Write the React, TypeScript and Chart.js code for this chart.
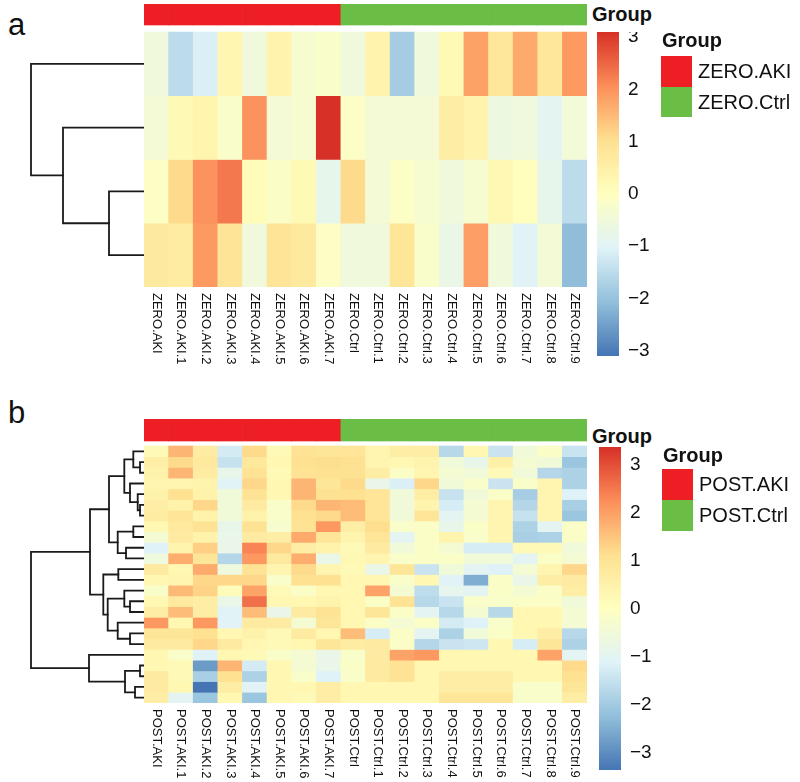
import React, { useEffect, useRef } from 'react';
import { Chart, registerables } from 'chart.js';

Chart.register(...registerables);

const FONT = '"Liberation Sans", Arial, Helvetica, sans-serif';

// ---------- Panel a (ZERO) ----------
const zeroSamples = [
  'ZERO.AKI', 'ZERO.AKI.1', 'ZERO.AKI.2', 'ZERO.AKI.3', 'ZERO.AKI.4', 'ZERO.AKI.5', 'ZERO.AKI.6', 'ZERO.AKI.7',
  'ZERO.Ctrl', 'ZERO.Ctrl.1', 'ZERO.Ctrl.2', 'ZERO.Ctrl.3', 'ZERO.Ctrl.4', 'ZERO.Ctrl.5', 'ZERO.Ctrl.6',
  'ZERO.Ctrl.7', 'ZERO.Ctrl.8', 'ZERO.Ctrl.9',
];
const zeroLevels = ['ZERO.AKI', 'ZERO.Ctrl'];
const zeroGroups = [
  'ZERO.AKI', 'ZERO.AKI', 'ZERO.AKI', 'ZERO.AKI', 'ZERO.AKI', 'ZERO.AKI', 'ZERO.AKI', 'ZERO.AKI',
  'ZERO.Ctrl', 'ZERO.Ctrl', 'ZERO.Ctrl', 'ZERO.Ctrl', 'ZERO.Ctrl', 'ZERO.Ctrl', 'ZERO.Ctrl',
  'ZERO.Ctrl', 'ZERO.Ctrl', 'ZERO.Ctrl',
];
const zeroValues = [
  [-0.5, -1.5, -1.1, 0.3, -0.5, 0.4, -0.3, -0.2, -0.5, 0.4, -1.8, -0.5, 0.2, 1.8, 0.8, 1.7, 0.8, 1.9],
  [-0.4, 0.2, 0.35, -0.2, 2.0, -0.4, -0.3, 3.1, -0.1, -0.4, -0.4, -0.4, 0.6, 0.4, -0.6, -0.5, -0.9, -0.45],
  [-0.1, 1.1, 2.0, 2.3, 0.1, -0.15, 0.2, -0.8, 1.1, -0.4, -0.1, -0.3, -0.5, -0.3, 0.25, 0.05, -0.8, -1.5],
  [0.7, 0.65, 1.9, 0.9, -0.5, 0.9, 0.7, -0.1, -0.5, -0.5, 0.85, -0.2, -0.7, 1.85, -0.5, -1.0, -0.4, -2.1],
];
// hclust-style merges: negative = leaf row (1-based), positive = earlier merge (1-based), then height
const zeroMerges = [
  [-3, -4, 36],
  [-2, 1, 82],
  [-1, 2, 114],
];
const zeroRange = 3.1;
const zeroTicks = [-3, -2, -1, 0, 1, 2, 3];

// ---------- Panel b (POST) ----------
const postSamples = [
  'POST.AKI', 'POST.AKI.1', 'POST.AKI.2', 'POST.AKI.3', 'POST.AKI.4', 'POST.AKI.5', 'POST.AKI.6', 'POST.AKI.7',
  'POST.Ctrl', 'POST.Ctrl.1', 'POST.Ctrl.2', 'POST.Ctrl.3', 'POST.Ctrl.4', 'POST.Ctrl.5', 'POST.Ctrl.6',
  'POST.Ctrl.7', 'POST.Ctrl.8', 'POST.Ctrl.9',
];
const postLevels = ['POST.AKI', 'POST.Ctrl'];
const postGroups = [
  'POST.AKI', 'POST.AKI', 'POST.AKI', 'POST.AKI', 'POST.AKI', 'POST.AKI', 'POST.AKI', 'POST.AKI',
  'POST.Ctrl', 'POST.Ctrl', 'POST.Ctrl', 'POST.Ctrl', 'POST.Ctrl', 'POST.Ctrl', 'POST.Ctrl',
  'POST.Ctrl', 'POST.Ctrl', 'POST.Ctrl',
];
const postValues = [
  [0.2, 1.7, 0.7, -1.3, 1.2, 0.2, 1.0, 0.9, 0.95, 0.35, 0.65, 0.65, -1.7, 0.3, -1.45, -0.5, -0.15, -1.45],
  [0.6, 1.2, 0.8, -1.5, 0.85, 0.3, 1.1, 1.15, 1.1, 0.35, 0.3, 0.4, -0.5, -0.85, 0.55, -0.4, -0.5, -2.1],
  [0.45, 1.7, 0.7, -0.85, 1.0, 0.2, 1.0, 1.1, 1.05, 0.65, -0.15, 0.35, -0.4, -0.5, 0.2, -0.5, -1.75, -1.85],
  [0.35, 0.35, 0.4, -1.1, 1.25, 0.3, 1.7, 0.9, 1.2, -0.8, -1.2, 1.25, -0.5, -0.2, -1.45, -0.2, 0.35, -1.85],
  [0.45, 1.1, 0.45, -0.5, 1.0, 0.3, 1.7, 1.05, 1.1, 0.95, -0.5, 0.65, -1.5, -0.5, -0.15, -1.95, 0.35, -1.15],
  [0.65, 0.45, 1.25, -0.5, 0.75, -0.2, 1.2, 1.7, 1.6, 0.95, -0.5, 0.4, -1.25, -0.4, 0.35, -1.75, 0.35, -1.9],
  [0.7, 0.95, 0.45, -0.5, 0.45, -0.2, 1.1, 1.2, 1.6, 0.95, -0.5, 0.95, -1.0, -0.4, 0.35, -1.5, 0.35, -2.1],
  [0.3, 0.8, 1.0, -0.85, 1.0, -0.3, 1.0, 2.1, 0.65, 1.15, -0.2, -0.15, -0.85, -0.15, 0.35, -1.85, -1.0, -0.15],
  [-0.4, 0.75, 0.45, -0.8, 0.75, 0.65, 1.85, 0.95, 0.4, 0.95, -1.0, -0.15, 0.4, -0.2, 0.35, -1.9, -1.85, -0.15],
  [-1.15, 0.4, 1.35, -0.8, 2.35, 1.25, 0.65, 0.45, 0.2, 0.75, -0.5, -0.15, -0.4, -1.25, -1.25, 0.2, 0.2, -0.5],
  [-0.6, 1.8, 0.9, -1.75, 2.1, 0.8, 1.8, -0.8, 0.25, 0.35, -0.2, -0.15, -0.15, -0.5, -0.5, -1.0, -0.15, -0.4],
  [0.75, 0.3, 1.85, -0.6, 1.0, 0.35, 1.2, 0.35, 0.2, -0.8, 0.9, -1.45, -0.5, -1.0, -1.15, -0.4, 0.35, 1.25],
  [0.3, 0.35, 1.25, 1.25, 1.25, -0.2, 1.1, 1.1, 0.3, 0.3, -0.2, 0.3, -1.1, -2.5, -0.15, -0.8, 0.65, 0.75],
  [-0.2, 1.65, 1.3, 0.1, 1.95, 0.2, -0.15, 0.3, 0.3, 1.95, -0.4, -1.6, -0.9, -1.0, -0.15, -0.4, -0.15, 0.65],
  [0.3, 0.8, 0.65, -0.8, 2.6, 0.3, 0.3, 0.4, 0.3, -0.15, 1.0, -1.7, -1.45, -0.2, -0.2, -0.15, -0.15, -0.5],
  [0.65, 1.6, 0.65, -1.1, 1.6, -0.8, 0.75, 1.0, 0.3, 0.9, -0.15, -1.0, -1.7, -0.4, -1.7, 0.3, 0.3, -0.4],
  [2.1, 0.3, 2.1, -1.1, 0.75, 0.75, -0.4, 0.9, 0.3, -0.15, -0.4, -0.15, -1.3, -1.15, -0.2, 0.3, 0.3, -0.4],
  [0.9, 0.9, 1.1, 0.3, 0.45, 0.2, 0.75, 0.3, 1.6, -1.25, -0.15, -1.0, -1.85, -0.5, -0.15, 0.3, 0.65, -1.7],
  [0.75, 0.75, 1.25, 0.75, 0.3, 0.2, 0.3, 0.9, 0.7, 0.75, -0.15, -1.75, -1.45, -1.4, 0.3, -1.25, 0.9, -1.85],
  [0.3, -0.2, -1.15, 0.3, 0.2, -0.2, -0.4, -0.8, -0.2, 0.75, 1.95, 2.1, 0.3, 0.3, 0.3, 0.3, 1.95, -1.0],
  [0.3, 0.2, -2.8, 1.7, -1.3, 0.3, -0.4, -0.8, -0.15, 0.75, 1.0, 0.3, 0.3, 0.3, 0.3, 0.3, 0.3, 1.2],
  [0.75, 0.2, -1.9, 1.1, -1.85, 0.3, -0.2, -1.15, -0.2, 0.75, 1.0, 0.3, 0.65, 0.65, 0.65, 0.3, 0.3, 1.1],
  [0.75, 0.3, -3.37, 0.65, -1.1, 0.3, 0.3, 0.65, 0.3, 0.3, 0.3, 0.3, 0.65, 0.65, 0.65, -0.2, -0.2, 0.9],
  [0.65, -1.0, -2.1, 0.3, -2.1, 0.3, 0.2, 0.65, 0.3, 0.3, 0.3, 0.3, 0.9, 0.9, 0.9, -0.2, -0.2, 0.65],
];
const postMerges = [
  [-2, -3, 5],
  [-1, 1, 11.7],
  [-6, -7, 5],
  [-5, 3, 7.3],
  [-4, 4, 15],
  [2, 5, 20.7],
  [-8, -9, 11.7],
  [-10, -11, 19],
  [7, 8, 27.3],
  [6, 9, 36],
  [-12, -13, 26.7],
  [-15, -16, 15],
  [-14, 12, 20.7],
  [-18, -19, 15],
  [-17, 14, 27.3],
  [13, 15, 37.3],
  [11, 16, 41.7],
  [10, 17, 55],
  [-21, -22, 5],
  [-23, -24, 10],
  [19, 20, 20],
  [-20, 21, 56],
  [18, 22, 114],
];
const postRange = 3.37;
const postTicks = [-3, -2, -1, 0, 1, 2, 3];

// ---------- Colours ----------
const heatPalette = ['#4575B4', '#91BFDB', '#E0F3F8', '#FFFFBF', '#FEE090', '#FC8D59', '#D73027'];
const groupPalette = ['#ED1F24', '#6ABD45'];

function hexToRgb(h: string) {
  const n = parseInt(h.slice(1), 16);
  return [(n >> 16) & 255, (n >> 8) & 255, n & 255];
}
function heatColor(v: number, range: number) {
  let t = (v + range) / (2 * range);
  t = Math.max(0, Math.min(1, t));
  const p = t * (heatPalette.length - 1);
  const i = Math.min(heatPalette.length - 2, Math.floor(p));
  const f = p - i;
  const a = hexToRgb(heatPalette[i]);
  const b = hexToRgb(heatPalette[i + 1]);
  const c = a.map((x, k) => Math.round(x + (b[k] - x) * f));
  return `rgb(${c[0]},${c[1]},${c[2]})`;
}

// ---------- Layout ----------
const HEAT_LEFT = 144;
const HEAT_RIGHT = 587;
const DENDRO_LEFT = 29;
const DENDRO_W = 118;

type Layout = {
  barTop: number; barBottom: number; heatTop: number; heatBottom: number;
  cbLeft: number; cbTop: number; cbBottom: number; labelSpace: number;
  letterBaseline: number; groupLabelBaseline: number; legendTitleBaseline: number;
  legendTop: number; swatchH: number; legendX: number;
};

const layoutA: Layout = {
  barTop: 4, barBottom: 25, heatTop: 32, heatBottom: 287,
  cbLeft: 597, cbTop: 32, cbBottom: 356, labelSpace: 80,
  letterBaseline: 35, groupLabelBaseline: 21, legendTitleBaseline: 47,
  legendTop: 56, swatchH: 30.5, legendX: 661,
};
const layoutB: Layout = {
  barTop: 419, barBottom: 441, heatTop: 446, heatBottom: 703,
  cbLeft: 599, cbTop: 447, cbBottom: 770, labelSpace: 76,
  letterBaseline: 423, groupLabelBaseline: 443, legendTitleBaseline: 462,
  legendTop: 469, swatchH: 31, legendX: 662,
};

// ---------- Chart configs ----------
const colLabelPlugin = {
  id: 'colLabels',
  afterDraw(chart: any) {
    const { ctx, chartArea, scales } = chart;
    const xs = scales.x;
    ctx.save();
    ctx.font = `13px ${FONT}`;
    ctx.fillStyle = '#111111';
    ctx.textAlign = 'left';
    ctx.textBaseline = 'middle';
    chart.data.labels.forEach((lab: string, i: number) => {
      const px = xs.getPixelForValue(i);
      ctx.save();
      ctx.translate(px, chartArea.bottom + 6);
      ctx.rotate(Math.PI / 2);
      ctx.fillText(lab, 0, 0);
      ctx.restore();
    });
    ctx.restore();
  },
};

function heatmapConfig(samples: string[], groups: string[], levels: string[], values: number[][], range: number, L: Layout): any {
  const nRows = values.length;
  const rowPx = (L.heatBottom - L.heatTop) / nRows;
  const barUnits = (L.barBottom - L.barTop) / rowPx;
  const gapUnits = (L.heatTop - L.barBottom) / rowPx;
  const total = nRows + barUnits + gapUnits;
  const datasets: any[] = [
    {
      label: 'Group',
      data: samples.map(() => barUnits),
      backgroundColor: groups.map((g) => groupPalette[levels.indexOf(g)]),
    },
    {
      label: 'gap',
      data: samples.map(() => gapUnits),
      backgroundColor: 'rgba(0,0,0,0)',
    },
    ...values.map((row, r) => ({
      label: 'row' + r,
      data: row.map(() => 1),
      backgroundColor: row.map((v) => heatColor(v, range)),
    })),
  ];
  datasets.forEach((d) => {
    d.borderWidth = 0;
    d.barPercentage = 1;
    d.categoryPercentage = 1;
  });
  return {
    type: 'bar',
    data: { labels: samples, datasets },
    options: {
      responsive: false,
      animation: false,
      events: [],
      layout: { padding: { left: 0, right: 0, top: 0, bottom: L.labelSpace } },
      plugins: { legend: { display: false }, tooltip: { enabled: false } },
      scales: {
        x: { display: false, stacked: true },
        y: { display: false, stacked: true, min: 0, max: total, reverse: true },
      },
    },
    plugins: [colLabelPlugin],
  };
}

function dendroSegments(merges: number[][]) {
  const ys: number[] = [];
  const hs: number[] = [];
  const nodeY = (id: number) => (id < 0 ? -id - 1 + 0.5 : ys[id - 1]);
  const nodeH = (id: number) => (id < 0 ? 0 : hs[id - 1]);
  const segs: { x: number; y: number }[][] = [];
  merges.forEach(([a, b, h]) => {
    const ya = nodeY(a);
    const yb = nodeY(b);
    segs.push([
      { x: nodeH(a), y: ya },
      { x: h, y: ya },
      { x: h, y: yb },
      { x: nodeH(b), y: yb },
    ]);
    ys.push((ya + yb) / 2);
    hs.push(h);
  });
  return segs;
}

function dendroConfig(merges: number[][], nRows: number): any {
  const segs = dendroSegments(merges);
  const rootH = merges[merges.length - 1][2];
  return {
    type: 'scatter',
    data: {
      datasets: segs.map((s) => ({
        data: s,
        showLine: true,
        borderColor: '#1a1a1a',
        borderWidth: 1.8,
        borderJoinStyle: 'miter',
        borderCapStyle: 'square',
        pointRadius: 0,
        fill: false,
        clip: false,
        tension: 0,
      })),
    },
    options: {
      responsive: false,
      animation: false,
      events: [],
      layout: { padding: { left: 2, right: 2, top: 0, bottom: 0 } },
      plugins: { legend: { display: false }, tooltip: { enabled: false } },
      scales: {
        x: { type: 'linear', display: false, min: 0, max: rootH, reverse: true },
        y: { type: 'linear', display: false, min: 0, max: nRows, reverse: true },
      },
    },
  };
}

const CB_BAR_W = 22;
const CB_AXIS_W = 48;

function colorbarConfig(range: number, ticks: number[]): any {
  return {
    type: 'bar',
    data: {
      labels: [''],
      datasets: [
        {
          data: [[-range, range]],
          borderWidth: 0,
          barPercentage: 1,
          categoryPercentage: 1,
          inflateAmount: 0,
          backgroundColor: (context: any) => {
            const { chart } = context;
            const { ctx, chartArea } = chart;
            if (!chartArea) return heatPalette[3];
            const g = ctx.createLinearGradient(0, chartArea.bottom, 0, chartArea.top);
            heatPalette.forEach((c, i) => g.addColorStop(i / (heatPalette.length - 1), c));
            return g;
          },
        },
      ],
    },
    options: {
      responsive: false,
      animation: false,
      events: [],
      layout: { padding: 0 },
      plugins: { legend: { display: false }, tooltip: { enabled: false } },
      scales: {
        x: { display: false },
        y: {
          position: 'right',
          min: -range,
          max: range,
          afterBuildTicks: (scale: any) => {
            scale.ticks = ticks.map((v) => ({ value: v }));
          },
          afterFit: (scale: any) => {
            scale.width = CB_AXIS_W;
            scale.paddingTop = 0;
            scale.paddingBottom = 0;
          },
          grid: { display: false, drawTicks: false },
          border: { display: false },
          ticks: {
            padding: 9,
            color: '#111111',
            font: { family: FONT, size: 19 },
            callback: (v: number) => (v < 0 ? '\u2212' + Math.abs(v) : String(v)),
          },
        },
      },
    },
  };
}

// ---------- Components ----------
function ChartCanvas(props: { left: number; top: number; width: number; height: number; makeConfig: () => any }) {
  const ref = useRef<HTMLCanvasElement>(null);
  useEffect(() => {
    const chart = new Chart(ref.current as HTMLCanvasElement, props.makeConfig());
    return () => chart.destroy();
  }, []);
  return (
    <canvas
      ref={ref}
      width={props.width}
      height={props.height}
      style={{ position: 'absolute', left: props.left, top: props.top, width: props.width, height: props.height }}
    />
  );
}

function TextAt(props: { left: number; baseline: number; size: number; bold?: boolean; children: React.ReactNode }) {
  const top = props.baseline - 0.8465 * props.size;
  return (
    <div
      style={{
        position: 'absolute',
        left: props.left,
        top,
        fontFamily: FONT,
        fontSize: props.size,
        lineHeight: `${props.size}px`,
        fontWeight: props.bold ? 'bold' : 'normal',
        color: '#111111',
        whiteSpace: 'nowrap',
      }}
    >
      {props.children}
    </div>
  );
}

function Panel(props: {
  letter: string; samples: string[]; groups: string[]; levels: string[]; values: number[][];
  merges: number[][]; range: number; ticks: number[]; L: Layout;
}) {
  const { L } = props;
  const heatW = HEAT_RIGHT - HEAT_LEFT;
  const heatCanvasH = L.heatBottom - L.barTop + L.labelSpace;
  return (
    <>
      <TextAt left={8} baseline={L.letterBaseline} size={31}>{props.letter}</TextAt>
      <ChartCanvas
        left={DENDRO_LEFT}
        top={L.heatTop}
        width={DENDRO_W}
        height={L.heatBottom - L.heatTop}
        makeConfig={() => dendroConfig(props.merges, props.values.length)}
      />
      <ChartCanvas
        left={HEAT_LEFT}
        top={L.barTop}
        width={heatW}
        height={heatCanvasH}
        makeConfig={() => heatmapConfig(props.samples, props.groups, props.levels, props.values, props.range, L)}
      />
      <TextAt left={592} baseline={L.groupLabelBaseline} size={20} bold>Group</TextAt>
      <ChartCanvas
        left={L.cbLeft}
        top={L.cbTop}
        width={CB_BAR_W + CB_AXIS_W}
        height={L.cbBottom - L.cbTop}
        makeConfig={() => colorbarConfig(props.range, props.ticks)}
      />
      <TextAt left={L.legendX + 1} baseline={L.legendTitleBaseline} size={20} bold>Group</TextAt>
      {props.levels.map((lev, i) => (
        <React.Fragment key={lev}>
          <div
            style={{
              position: 'absolute',
              left: L.legendX,
              top: L.legendTop + i * L.swatchH,
              width: 31,
              height: L.swatchH,
              background: groupPalette[i],
            }}
          />
          <div
            style={{
              position: 'absolute',
              left: L.legendX + 37,
              top: L.legendTop + i * L.swatchH,
              height: L.swatchH,
              lineHeight: `${L.swatchH}px`,
              fontFamily: FONT,
              fontSize: 20,
              color: '#111111',
              whiteSpace: 'nowrap',
            }}
          >
            {lev}
          </div>
        </React.Fragment>
      ))}
    </>
  );
}

export default function App() {
  return (
    <div
      style={{
        position: 'absolute',
        left: 0,
        top: 0,
        width: 800,
        height: 782,
        overflow: 'hidden',
        background: '#ffffff',
      }}
    >
      <Panel
        letter="a"
        samples={zeroSamples}
        groups={zeroGroups}
        levels={zeroLevels}
        values={zeroValues}
        merges={zeroMerges}
        range={zeroRange}
        ticks={zeroTicks}
        L={layoutA}
      />
      <Panel
        letter="b"
        samples={postSamples}
        groups={postGroups}
        levels={postLevels}
        values={postValues}
        merges={postMerges}
        range={postRange}
        ticks={postTicks}
        L={layoutB}
      />
    </div>
  );
}
